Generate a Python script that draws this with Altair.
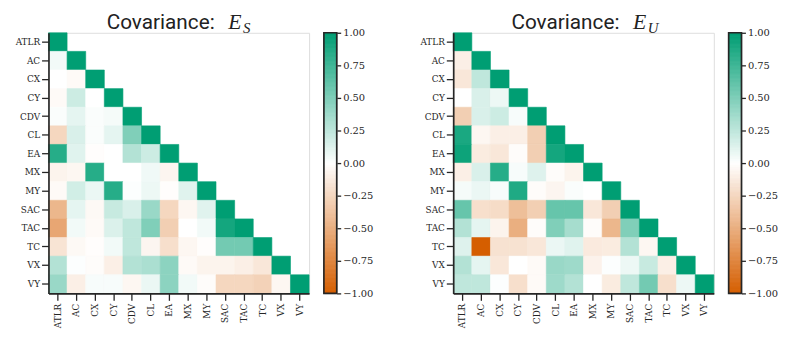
import altair as alt
import pandas as pd
import numpy as np

cols = ["ATLR", "AC", "CX", "CY", "CDV", "CL", "EA", "MX", "MY", "SAC", "TAC", "TC", "VX", "VY"]

es_lower = [
    [1.00],
    [0.05, 1.00],
    [0.00, -0.03, 1.00],
    [-0.03, 0.20, 0.00, 1.00],
    [0.02, 0.10, 0.02, 0.04, 1.00],
    [-0.25, 0.15, 0.02, 0.10, 0.50, 1.00],
    [0.85, 0.12, -0.01, 0.00, 0.30, 0.20, 1.00],
    [-0.07, -0.05, 0.85, 0.00, 0.00, 0.06, -0.06, 1.00],
    [-0.03, 0.18, 0.08, 0.85, 0.01, 0.07, -0.01, 0.12, 1.00],
    [-0.45, 0.10, -0.04, 0.22, 0.15, 0.40, -0.25, -0.05, 0.12, 1.00],
    [-0.55, 0.05, -0.03, 0.14, 0.25, 0.50, -0.30, 0.00, 0.05, 0.92, 1.00],
    [-0.17, -0.04, -0.01, 0.05, 0.25, -0.06, -0.20, -0.05, -0.01, 0.55, 0.55, 1.00],
    [0.30, 0.01, -0.02, -0.10, 0.30, 0.33, 0.45, -0.03, -0.07, -0.07, -0.10, -0.15, 1.00],
    [0.40, -0.10, 0.03, 0.03, -0.05, 0.08, 0.45, 0.05, -0.02, -0.25, -0.25, -0.28, -0.05, 1.00],
]

eu_lower = [
    [1.00],
    [-0.10, 1.00],
    [-0.15, 0.25, 1.00],
    [0.00, 0.15, 0.07, 1.00],
    [-0.30, 0.15, 0.20, 0.03, 1.00],
    [0.90, -0.05, -0.10, -0.10, -0.30, 1.00],
    [0.95, -0.12, -0.15, -0.02, -0.30, 0.92, 1.00],
    [-0.10, 0.15, 0.85, 0.03, 0.13, -0.02, -0.07, 1.00],
    [0.04, 0.08, 0.03, 0.88, -0.02, -0.06, 0.02, 0.00, 1.00],
    [0.60, -0.20, -0.22, -0.40, -0.30, 0.60, 0.60, -0.15, -0.30, 1.00],
    [0.30, 0.10, -0.07, -0.50, -0.02, 0.50, 0.35, -0.02, -0.45, 0.50, 1.00],
    [0.13, -1.00, -0.18, -0.18, -0.15, 0.08, 0.12, -0.13, -0.12, 0.30, -0.05, 1.00],
    [0.30, 0.10, -0.15, 0.00, -0.03, 0.40, 0.38, -0.08, 0.01, 0.07, 0.22, -0.10, 1.00],
    [0.25, 0.25, 0.01, -0.20, -0.03, 0.38, 0.30, 0.00, -0.12, 0.25, 0.55, -0.20, 0.07, 1.00],
]

cbar_ticks = [-1.0, -0.75, -0.5, -0.25, 0.0, 0.25, 0.5, 0.75, 1.0]

W = 264
H = 264
ORANGE = "#D55E00"
GREEN = "#009E73"
AX = "#262626"
SERIF = "DejaVu Serif"


def long_df(lower):
    recs = []
    for i, row in enumerate(lower):
        for j, v in enumerate(row):
            recs.append({"row": cols[i], "col": cols[j], "v": v})
    return pd.DataFrame(recs)


def cscale():
    return alt.Scale(domain=[-1, 0, 1], range=[ORANGE, "#FFFFFF", GREEN], interpolate="rgb")


def axis_opts(**kw):
    return alt.Axis(title=None, labelFont=SERIF, labelFontSize=9, labelColor=AX, tickSize=7,
                    tickWidth=1.3, tickColor=AX, domainColor=AX, domainWidth=1.7, grid=False, **kw)


def heatmap(lower, sub):
    df = long_df(lower)
    base = alt.Chart(df).mark_rect(strokeWidth=0.6).encode(
        x=alt.X("col:N", scale=alt.Scale(domain=cols, padding=0),
                axis=axis_opts(labelAngle=270, labelPadding=3)),
        y=alt.Y("row:N", scale=alt.Scale(domain=cols, padding=0),
                axis=axis_opts(labelPadding=2)),
        color=alt.Color("v:Q", scale=cscale(), legend=None),
        stroke=alt.Stroke("v:Q", scale=cscale(), legend=None),
    )
    t1 = alt.Chart(pd.DataFrame({"t": ["Covariance:"]})).mark_text(
        font="Roboto", fontSize=21, align="left", baseline="alphabetic", color="#222222"
    ).encode(x=alt.value(W / 2 - 73), y=alt.value(-4), text="t:N")
    t2 = alt.Chart(pd.DataFrame({"t": ["E"]})).mark_text(
        font="Liberation Serif", fontStyle="italic", fontSize=22, align="left", baseline="alphabetic",
        color="#222222"
    ).encode(x=alt.value(W / 2 + 50), y=alt.value(-4), text="t:N")
    t3 = alt.Chart(pd.DataFrame({"t": [sub]})).mark_text(
        font="Liberation Serif", fontStyle="italic", fontSize=15, align="left", baseline="alphabetic",
        color="#222222"
    ).encode(x=alt.value(W / 2 + 65), y=alt.value(0), text="t:N")
    return alt.layer(base, t1, t2, t3).properties(width=W, height=H)


def colorbar():
    lo = np.linspace(-1, 1, 201)[:-1]
    df = pd.DataFrame({"lo": lo, "hi": np.minimum(lo + 0.012, 1.0), "mid": lo + 0.005})
    bars = alt.Chart(df).mark_rect(strokeWidth=0.8).encode(
        x=alt.value(0), x2=alt.value(13),
        y=alt.Y("lo:Q", scale=alt.Scale(domain=[-1, 1], nice=False, zero=False),
                axis=alt.Axis(orient="right", values=cbar_ticks, format=".2f", title=None,
                              labelFont=SERIF, labelFontSize=10, labelColor=AX,
                              tickSize=4, tickWidth=1.3, tickColor=AX, domain=False, grid=False,
                              labelPadding=2)),
        y2="hi:Q",
        color=alt.Color("mid:Q", scale=cscale(), legend=None),
        stroke=alt.Stroke("mid:Q", scale=cscale(), legend=None),
    )
    border = alt.Chart(pd.DataFrame({"a": [0]})).mark_rect(
        filled=False, stroke=AX, strokeWidth=1.7
    ).encode(x=alt.value(0), x2=alt.value(13), y=alt.value(0), y2=alt.value(H))
    return alt.layer(bars, border).properties(width=13, height=H)


left = alt.hconcat(heatmap(es_lower, "S"), colorbar(), spacing=12)
right = alt.hconcat(heatmap(eu_lower, "U"), colorbar(), spacing=12)
chart = alt.hconcat(left, right, spacing=45).properties(
    padding={"left": 6, "top": 0, "right": 0, "bottom": 0}
).configure_view(stroke=None).configure(background="white")

chart.save("out.html", embed_options={"renderer": "svg", "actions": False})
